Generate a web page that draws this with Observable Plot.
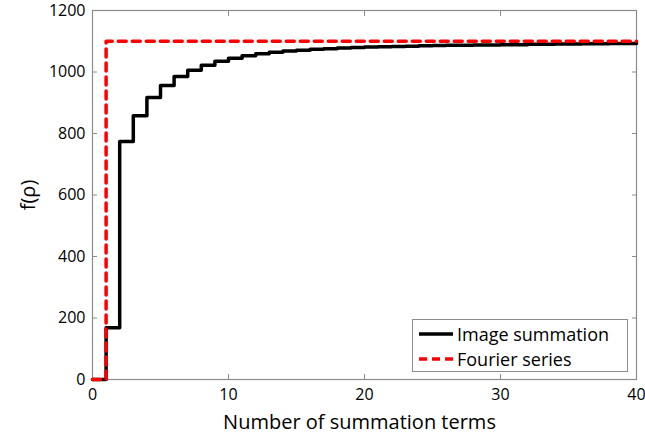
<!DOCTYPE html>
<html>
<head>
<meta charset="utf-8">
<script src="https://cdn.jsdelivr.net/npm/d3@7"></script>
<script src="https://cdn.jsdelivr.net/npm/@observablehq/plot@0.6"></script>
<style>
  html, body { margin: 0; padding: 0; background: #fff; }
  #wrap { position: relative; width: 645px; height: 434px; font-family: "Open Sans", "Noto Sans", sans-serif; }
  #legend {
    position: absolute; left: 412px; top: 319px; width: 216px; height: 53px;
    border: 1px solid #8c8c8c; background: #fff; box-sizing: border-box;
    font-size: 18px; color: #000;
  }
  .row { position: absolute; left: 6px; height: 24px; display: flex; align-items: center; }
  .row svg { margin-right: 4px; }
</style>
</head>
<body>
<div id="wrap"></div>
<script>
// Partial sums f(ρ) against number of terms kept
const terms = d3.range(0, 41);
const imageSummation = [
  0, 168, 774, 858, 917, 956, 985, 1006, 1022, 1035,
  1045, 1053, 1059, 1064, 1068, 1071, 1074, 1076, 1078, 1080,
  1081, 1082, 1083, 1084, 1085, 1086, 1087, 1087, 1088, 1088,
  1089, 1089, 1090, 1090, 1091, 1091, 1092, 1092, 1093, 1093,
  1094
];
const fourierSeries = [0, ...d3.range(1, 41).map(() => 1100)];
const xTicks = [0, 10, 20, 30, 40];
const yTicks = [0, 200, 400, 600, 800, 1000, 1200];
const seriesNames = ["Image summation", "Fourier series"];
const xLabel = "Number of summation terms";
const yLabel = "f(ρ)";

const rows = terms.map((n, i) => ({n, image: imageSummation[i], fourier: fourierSeries[i]}));

const axisColor = "#8c8c8c";
const plain = d3.format("d");

const chart = Plot.plot({
  width: 645,
  height: 434,
  marginLeft: 92,
  marginRight: 9,
  marginTop: 10,
  marginBottom: 55,
  style: {fontFamily: "'Open Sans', 'Noto Sans', sans-serif", fontSize: "16px", color: "#000", background: "#fff"},
  x: {domain: [0, 40], ticks: xTicks},
  y: {domain: [0, 1200], ticks: yTicks},
  marks: [
    Plot.frame({stroke: axisColor, strokeWidth: 1.2}),
    Plot.axisX({anchor: "bottom", ticks: xTicks, tickSize: -5, tickPadding: 14, stroke: axisColor, tickFormat: plain,
      label: xLabel, labelAnchor: "center", labelArrow: "none", labelOffset: 49}),
    Plot.axisX({anchor: "top", ticks: xTicks, tickSize: -5, stroke: axisColor, tickFormat: () => "", label: null}),
    Plot.axisY({anchor: "left", ticks: yTicks, tickSize: -5, tickPadding: 12, stroke: axisColor, tickFormat: plain,
      label: yLabel, labelAnchor: "center", labelArrow: "none", labelOffset: 72}),
    Plot.axisY({anchor: "right", ticks: yTicks, tickSize: -5, stroke: axisColor, tickFormat: () => "", label: null}),
    Plot.line(rows, {x: "n", y: "image", curve: "step-after", stroke: "#000", strokeWidth: 3.5}),
    Plot.line(rows, {x: "n", y: "fourier", curve: "step-after", stroke: "#ff0000", strokeWidth: 3.5, strokeDasharray: "8,6"})
  ]
});

// larger type for the two axis titles
d3.select(chart).selectAll("text")
  .filter(function() { return this.textContent === xLabel || this.textContent === yLabel; })
  .style("font-size", "20px");
d3.select(chart).selectAll("text")
  .filter(function() { return this.textContent === xLabel; })
  .attr("dx", -5);

const wrap = document.getElementById("wrap");
wrap.appendChild(chart);

// legend box in the lower right of the frame
const legend = document.createElement("div");
legend.id = "legend";
const styles = [{stroke: "#000", dash: null}, {stroke: "#ff0000", dash: "8,5"}];
seriesNames.forEach((name, i) => {
  const row = document.createElement("div");
  row.className = "row";
  row.style.top = (2 + i * 25) + "px";
  const s = styles[i];
  row.innerHTML = `<svg width="34" height="10"><line x1="0" x2="34" y1="5" y2="5" stroke="${s.stroke}" stroke-width="3.5" ${s.dash ? `stroke-dasharray="${s.dash}"` : ""}/></svg><span>${name}</span>`;
  legend.appendChild(row);
});
wrap.appendChild(legend);
</script>
</body>
</html>
